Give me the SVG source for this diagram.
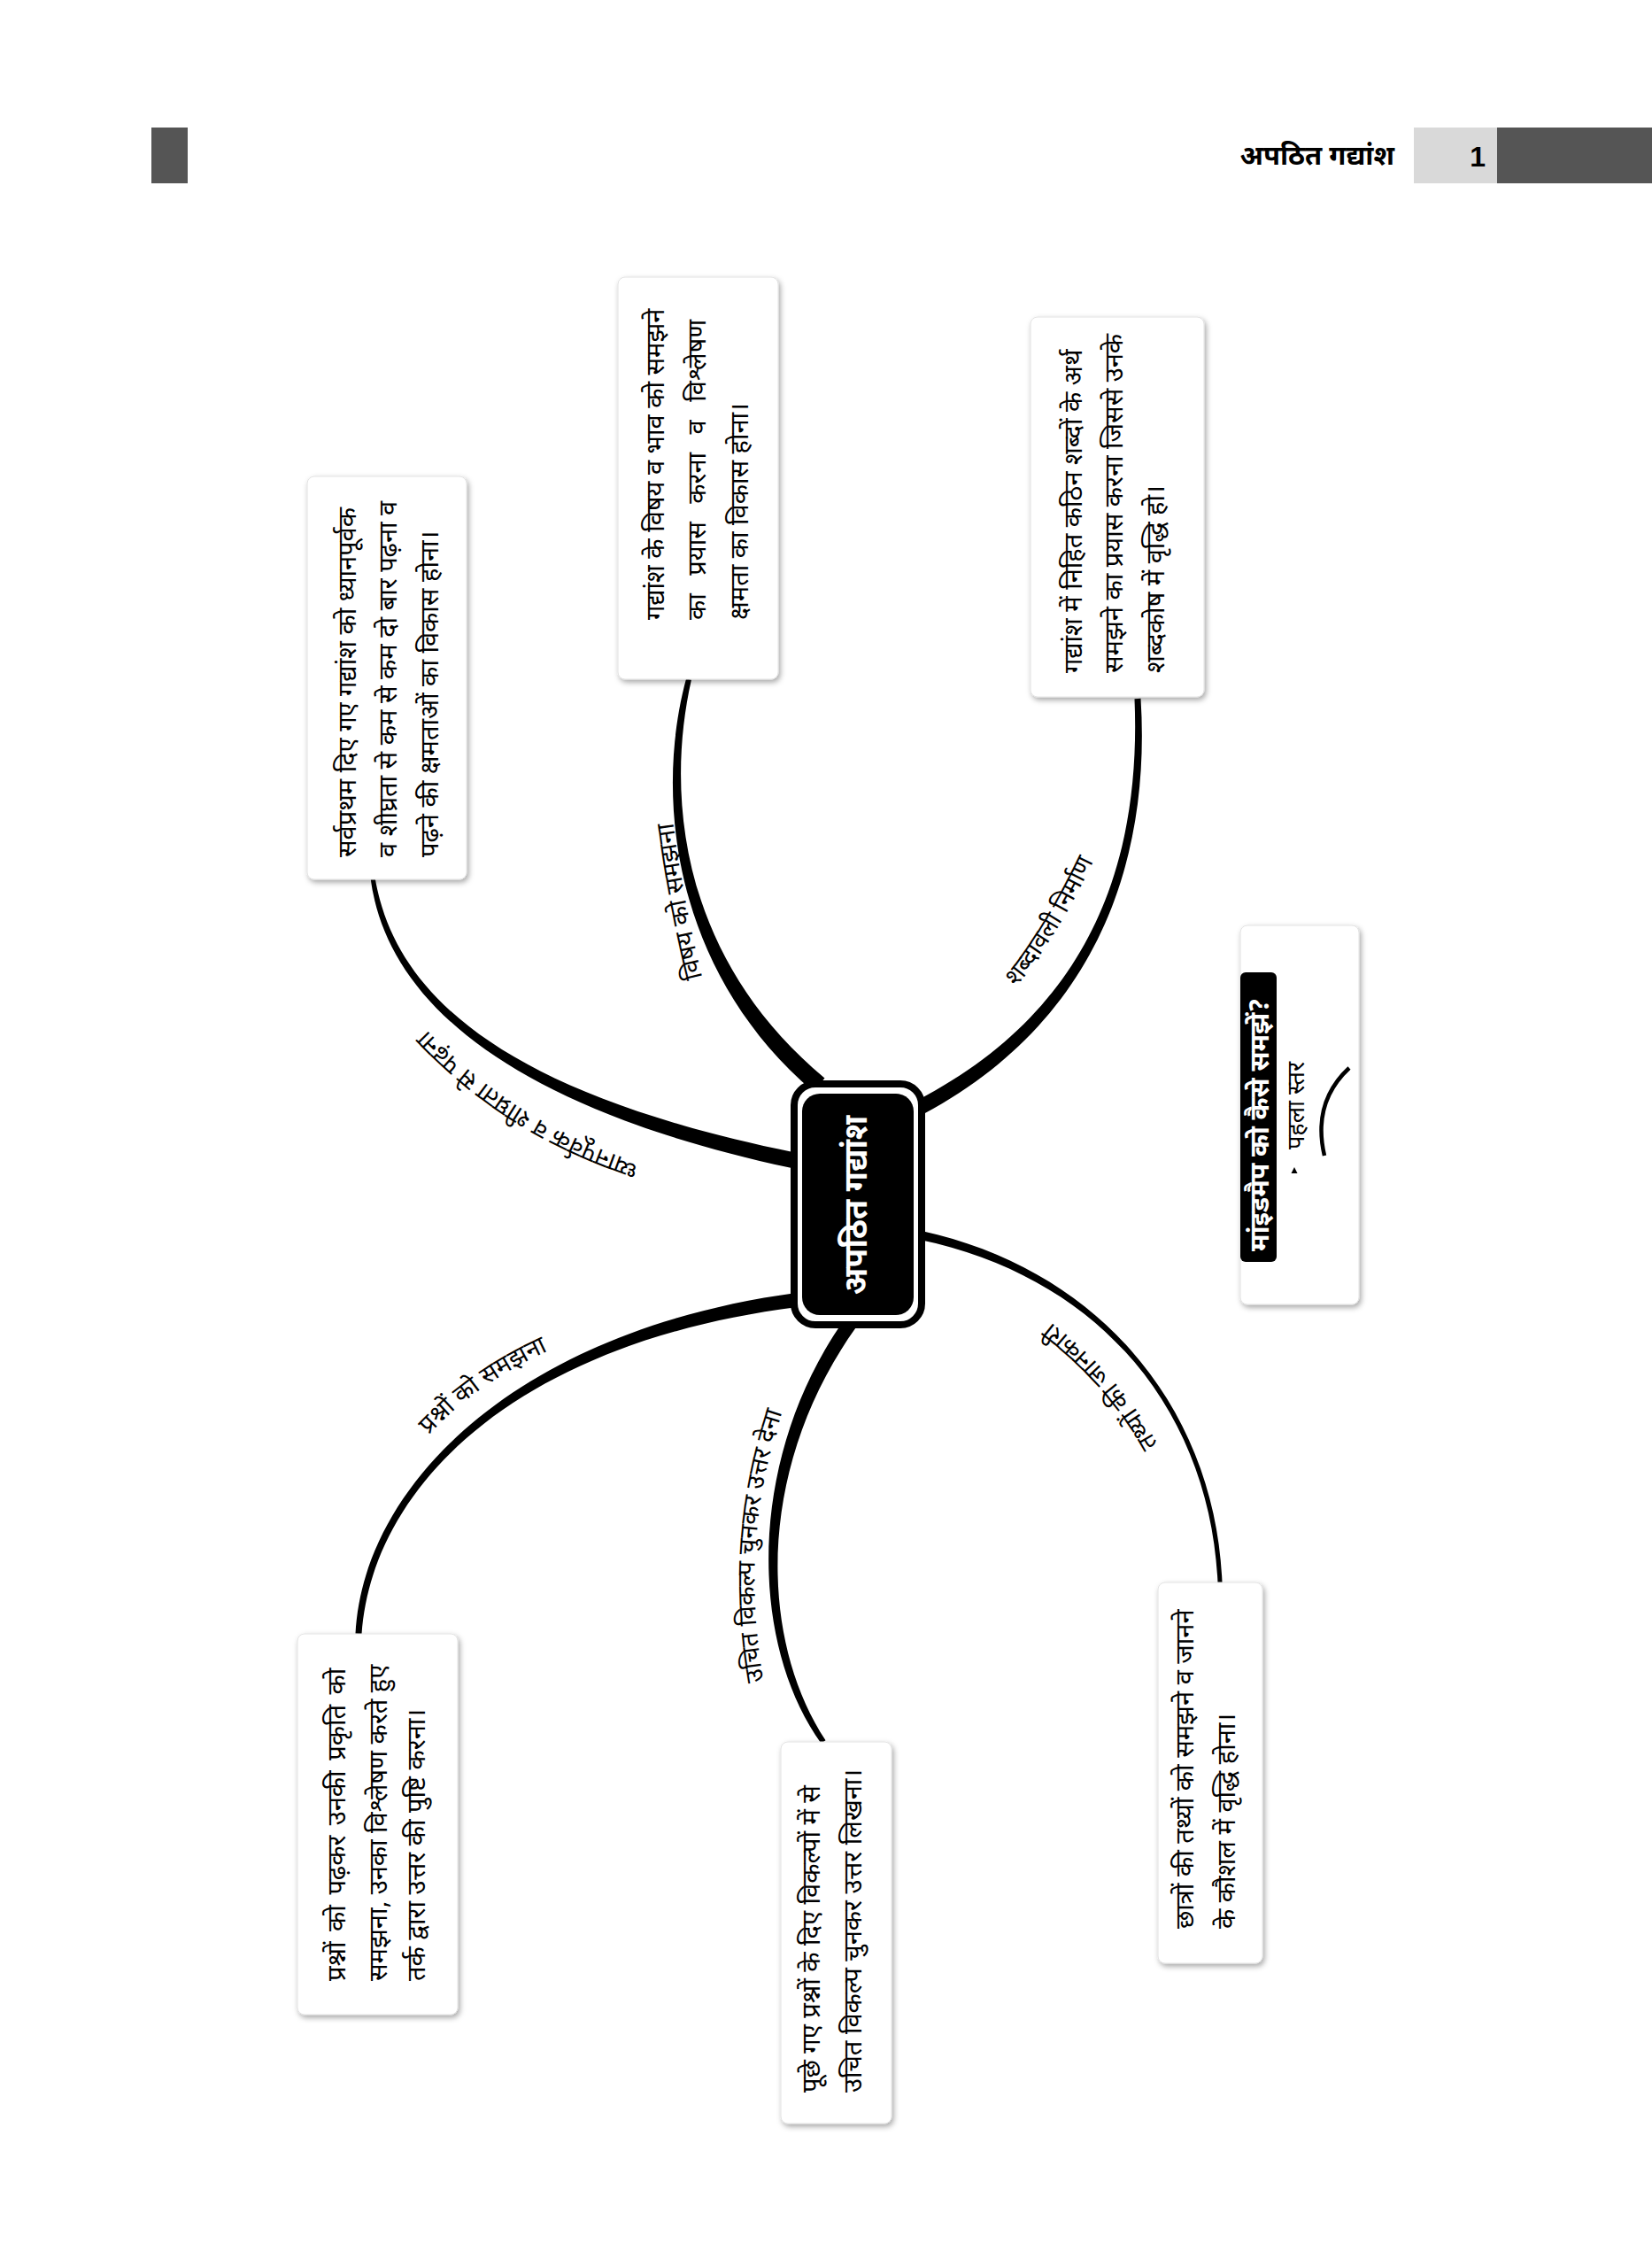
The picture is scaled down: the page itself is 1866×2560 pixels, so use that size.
<svg xmlns="http://www.w3.org/2000/svg" width="1866" height="2560" viewBox="0 0 1866 2560">
<defs>
<style>
.dv{font-family:'Noto Sans Devanagari','Noto Sans','Lohit Devanagari','FreeSans','DejaVu Sans',sans-serif;}
.bt{font-size:29px;fill:#000;}
.lbl{font-size:28px;fill:#000;}
.box{fill:#fff;stroke:#e2e2e2;stroke-width:1;filter:url(#sh);}
.br{fill:#000;stroke:none;}
</style>
<filter id="sh" x="-15%" y="-10%" width="130%" height="120%">
<feDropShadow dx="2" dy="3" stdDeviation="3" flood-color="#000" flood-opacity="0.35"/>
</filter>
<path id="pA" d="M 742 1320 C 650 1291 560 1250 468 1148"/>
<path id="pB" d="M 796 1115 Q 770 1010 759 918"/>
<path id="pC" d="M 1138 1127 Q 1195 1060 1242 958"/>
<path id="pD" d="M 472 1634 Q 535 1560 636 1518"/>
<path id="pE" d="M 866 1918 C 845 1810 845 1700 890 1576"/>
<path id="pF" d="M 1320 1654 Q 1270 1550 1166 1478"/>
</defs>
<rect x="0" y="0" width="1866" height="2560" fill="#fff"/>

<g id="header">
<rect x="171" y="144" width="41" height="63" fill="#555"/>
<text class="dv" x="1575" y="186" font-size="31" font-weight="bold" text-anchor="end">अपठित गद्यांश</text>
<rect x="1597" y="144" width="94" height="63" fill="#d9d9d9"/>
<rect x="1691" y="144" width="175" height="63" fill="#555"/>
<text x="1678" y="188" font-family="'Liberation Sans',Arial,sans-serif" font-size="32" font-weight="bold" text-anchor="end">1</text>
</g>

<g id="connectors">
<path class="br" d="M423.5 990.6 C444.9 1119.3 561.4 1233.1 896.8 1301.2 L893.2 1318.8 C558.6 1246.9 435.1 1120.7 418.5 991.4 Z"/>
<path class="br" d="M780.9 767.7 C750.8 901.4 770.5 1083.5 931.5 1217.4 L918.6 1232.6 C759.5 1096.5 739.2 898.6 775.1 766.3 Z"/>
<path class="br" d="M1288.5 788.8 C1300.5 979.7 1233.3 1156.2 1044 1257.5 L1036 1242.5 C1226.7 1143.8 1289.5 980.3 1281.5 789.2 Z"/>
<path class="br" d="M401.5 1844.8 C410 1679.7 579.4 1503.5 899.3 1460 L900.7 1476 C580.6 1516.5 420 1680.3 408.5 1845.2 Z"/>
<path class="br" d="M927.5 1968.7 C845 1853.4 843.9 1645.7 953.5 1490.4 L966.5 1499.6 C856.1 1654.3 855 1846.6 932.5 1965.3 Z"/>
<path class="br" d="M1375.5 1787.1 C1366.8 1600.1 1249.2 1443.9 1039 1399.9 L1041 1390.1 C1250.8 1436.1 1373.2 1599.9 1380.5 1786.9 Z"/>
<text class="dv lbl"><textPath href="#pA" startOffset="50%" text-anchor="middle">ध्यानपूर्वक व शीघ्रता से पढ़ना</textPath></text>
<text class="dv lbl"><textPath href="#pB" startOffset="50%" text-anchor="middle">विषय को समझना</textPath></text>
<text class="dv lbl"><textPath href="#pC" startOffset="50%" text-anchor="middle">शब्दावली निर्माण</textPath></text>
<text class="dv lbl"><textPath href="#pD" startOffset="50%" text-anchor="middle">प्रश्नों को समझना</textPath></text>
<text class="dv lbl"><textPath href="#pE" startOffset="50%" text-anchor="middle">उचित विकल्प चुनकर उत्तर देना</textPath></text>
<text class="dv lbl"><textPath href="#pF" startOffset="50%" text-anchor="middle">तथ्यों की जानकारी</textPath></text>
</g>

<g id="node-center">
<rect x="897" y="1224" width="144" height="272" rx="24" fill="#fff" stroke="#000" stroke-width="8"/>
<rect x="906" y="1235" width="126" height="250" rx="20" fill="#000"/>
<text class="dv" transform="translate(979,1361) rotate(-90)" font-size="36" font-weight="bold" fill="#fff" text-anchor="middle">अपठित गद्यांश</text>
</g>

<g id="node-a">
<rect class="box" x="347" y="538" width="180" height="455" rx="8"/>
<text class="dv bt" transform="translate(402,968) rotate(-90)"><tspan x="0" y="0">सर्वप्रथम दिए गए गद्यांश को ध्यानपूर्वक</tspan><tspan x="0" y="46">व शीघ्रता से कम से कम दो बार पढ़ना व</tspan><tspan x="0" y="93">पढ़ने की क्षमताओं का विकास होना।</tspan></text>
</g>

<g id="node-b">
<rect class="box" x="698" y="313" width="181" height="454" rx="8"/>
<text class="dv bt" transform="translate(750,700) rotate(-90)"><tspan x="0" y="0">गद्यांश के विषय व भाव को समझने</tspan><tspan x="0" y="47" word-spacing="13">का प्रयास करना व विश्लेषण</tspan><tspan x="0" y="95">क्षमता का विकास होना।</tspan></text>
</g>

<g id="node-c">
<rect class="box" x="1164" y="358" width="196" height="429" rx="8"/>
<text class="dv bt" transform="translate(1222,760) rotate(-90)"><tspan x="0" y="0">गद्यांश में निहित कठिन शब्दों के अर्थ</tspan><tspan x="0" y="46">समझने का प्रयास करना जिससे उनके</tspan><tspan x="0" y="93">शब्दकोष में वृद्धि हो।</tspan></text>
</g>

<g id="node-d">
<rect class="box" x="336" y="1845" width="181" height="430" rx="8"/>
<text class="dv bt" transform="translate(390,2237) rotate(-90)"><tspan x="0" y="0" word-spacing="4">प्रश्नों को पढ़कर उनकी प्रकृति को</tspan><tspan x="0" y="47">समझना, उनका विश्लेषण करते हुए</tspan><tspan x="0" y="90">तर्क द्वारा उत्तर की पुष्टि करना।</tspan></text>
</g>

<g id="node-e">
<rect class="box" x="882" y="1967" width="125" height="431" rx="8"/>
<text class="dv bt" transform="translate(926,2363) rotate(-90)"><tspan x="0" y="0">पूछे गए प्रश्नों के दिए विकल्पों में से</tspan><tspan x="0" y="47">उचित विकल्प चुनकर उत्तर लिखना।</tspan></text>
</g>

<g id="node-f">
<rect class="box" x="1308" y="1787" width="118" height="430" rx="8"/>
<text class="dv bt" transform="translate(1348,2178) rotate(-90)"><tspan x="0" y="0">छात्रों की तथ्यों को समझने व जानने</tspan><tspan x="0" y="47">के कौशल में वृद्धि होना।</tspan></text>
</g>

<g id="legend">
<rect class="box" x="1401" y="1045" width="134" height="428" rx="8"/>
<rect x="1401" y="1098" width="41" height="327" rx="6" fill="#000"/>
<text class="dv" transform="translate(1433,1270) rotate(-90)" font-size="30" font-weight="bold" fill="#fff" text-anchor="middle">मांइडमैप को कैसे समझें?</text>
<polygon points="1462,1318 1458.5,1325 1465.5,1325" fill="#000"/>
<text class="dv" transform="translate(1473,1298) rotate(-90)" font-size="27" fill="#000">पहला स्तर</text>
<path d="M 1496 1305 Q 1482 1245 1524 1206" fill="none" stroke="#000" stroke-width="4.5"/>
</g>
</svg>
